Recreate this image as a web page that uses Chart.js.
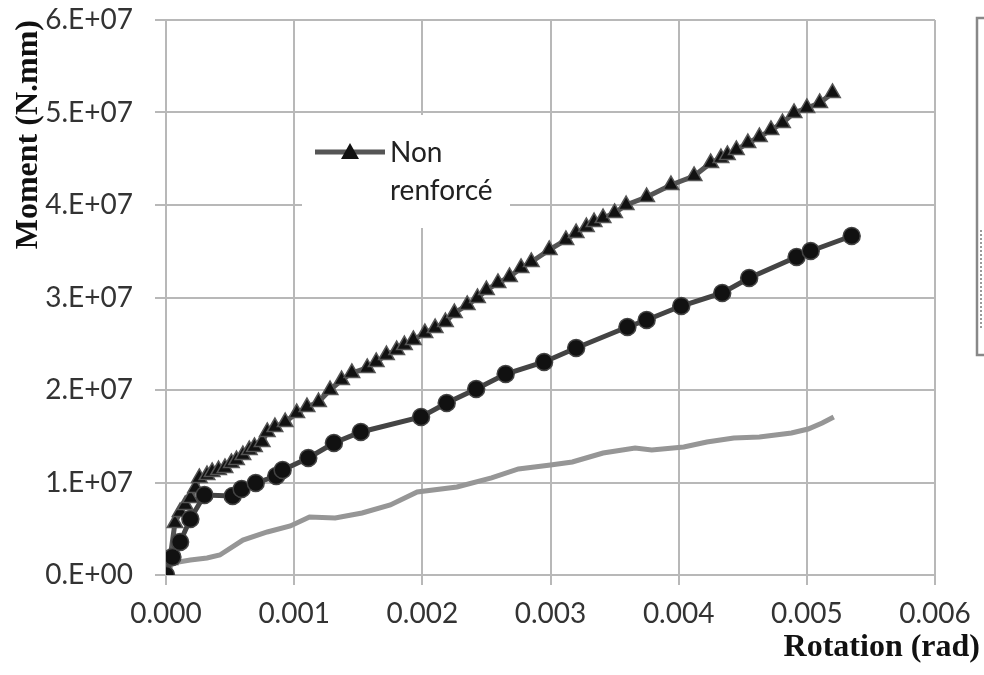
<!DOCTYPE html>
<html>
<head>
<meta charset="utf-8">
<script src="https://cdn.jsdelivr.net/npm/chart.js@4"></script>
<style>
  body { margin: 0; background: #fff; }
</style>
</head>
<body>
<canvas id="momentChart" width="984" height="675"></canvas>
<script>
// rotation (rad) / moment (N.mm)
const triRotation = [0, 0.00003, 0.00007, 0.00011, 0.00015, 0.00019, 0.00023, 0.00026, 0.00032, 0.00036, 0.00041, 0.00046,
  0.00051, 0.00055, 0.00060, 0.00065, 0.00069, 0.00075, 0.00079, 0.00085, 0.00093, 0.00102, 0.00110, 0.00119,
  0.00128, 0.00137, 0.00145, 0.00157, 0.00164, 0.00172, 0.00180, 0.00186, 0.00193, 0.00202, 0.00210, 0.00218,
  0.00225, 0.00235, 0.00243, 0.00250, 0.00259, 0.00268, 0.00277, 0.00285, 0.00299, 0.00312, 0.00320, 0.00328,
  0.00334, 0.00341, 0.00350, 0.00359, 0.00375, 0.00394, 0.00412, 0.00425, 0.00433, 0.00438, 0.00445, 0.00454,
  0.00463, 0.00472, 0.00481, 0.00490, 0.00500, 0.00510, 0.00520];
const triMoment = [0, 1.62e6, 5.62e6, 6.81e6, 7.57e6, 8.32e6, 9.41e6, 10.49e6, 10.81e6, 11.14e6, 11.35e6, 11.57e6,
  12.11e6, 12.43e6, 12.97e6, 13.51e6, 13.84e6, 14.38e6, 15.46e6, 16.0e6, 16.54e6, 17.51e6, 18.16e6, 18.70e6,
  20.0e6, 21.08e6, 21.84e6, 22.38e6, 23.03e6, 23.78e6, 24.32e6, 24.86e6, 25.41e6, 26.16e6, 26.70e6, 27.35e6,
  28.32e6, 29.19e6, 29.95e6, 30.81e6, 31.57e6, 32.22e6, 33.19e6, 33.84e6, 35.14e6, 36.22e6, 36.97e6, 37.62e6,
  38.16e6, 38.59e6, 39.14e6, 40.0e6, 40.86e6, 42.16e6, 43.14e6, 44.54e6, 45.08e6, 45.41e6, 45.95e6, 46.70e6,
  47.35e6, 48.11e6, 48.86e6, 49.95e6, 50.49e6, 51.03e6, 52.11e6];

const circRotation = [0, 0.00005, 0.00011, 0.00019, 0.00030, 0.00052, 0.00059, 0.00070, 0.00086, 0.00091, 0.00111,
  0.00131, 0.00152, 0.00199, 0.00219, 0.00242, 0.00265, 0.00295, 0.00320, 0.00360, 0.00375, 0.00402, 0.00434,
  0.00455, 0.00492, 0.00503, 0.00535];
const circMoment = [0, 1.95e6, 3.57e6, 6.05e6, 8.65e6, 8.54e6, 9.30e6, 9.95e6, 10.70e6, 11.35e6, 12.65e6,
  14.27e6, 15.46e6, 17.08e6, 18.59e6, 20.11e6, 21.73e6, 23.03e6, 24.54e6, 26.81e6, 27.57e6, 29.08e6, 30.49e6,
  32.11e6, 34.38e6, 35.03e6, 36.65e6];

const grayRotation = [0, 0.00002, 0.00005, 0.00019, 0.00032, 0.00042, 0.00060, 0.00079, 0.00097, 0.00112, 0.00132,
  0.00153, 0.00175, 0.00196, 0.00227, 0.00254, 0.00275, 0.00300, 0.00317, 0.00341, 0.00366, 0.00379, 0.00404,
  0.00422, 0.00443, 0.00463, 0.00488, 0.00501, 0.00512, 0.00521];
const grayMoment = [0, 0.54e6, 1.30e6, 1.62e6, 1.84e6, 2.16e6, 3.78e6, 4.65e6, 5.30e6, 6.27e6, 6.16e6,
  6.70e6, 7.57e6, 8.97e6, 9.51e6, 10.49e6, 11.46e6, 11.89e6, 12.22e6, 13.19e6, 13.73e6, 13.51e6, 13.84e6,
  14.38e6, 14.81e6, 14.92e6, 15.35e6, 15.78e6, 16.43e6, 17.08e6];

const xTickLabels = ['0.000', '0.001', '0.002', '0.003', '0.004', '0.005', '0.006'];
const yTickLabels = ['0.E+00', '1.E+07', '2.E+07', '3.E+07', '4.E+07', '5.E+07', '6.E+07'];
const legendLines = ['Non', 'renforcé'];

function toPoints(xs, ys) {
  return xs.map((x, i) => ({ x: x, y: ys[i] }));
}

const gridColor = '#b8b8b8';
const tickFont = { family: 'Lato', size: 28 };

// legend box inside the plot, x title and the clipped box at the right edge
const extrasPlugin = {
  id: 'extras',
  afterDraw(chart) {
    const ctx = chart.ctx;
    const a = chart.chartArea;
    ctx.save();
    // legend
    ctx.fillStyle = '#fff';
    ctx.fillRect(a.left + 136, a.top + 95, 208, 113);
    ctx.strokeStyle = '#555';
    ctx.lineWidth = 5;
    ctx.beginPath();
    ctx.moveTo(a.left + 149, a.top + 132);
    ctx.lineTo(a.left + 219, a.top + 132);
    ctx.stroke();
    ctx.fillStyle = '#111';
    ctx.beginPath();
    ctx.moveTo(a.left + 184, a.top + 123);
    ctx.lineTo(a.left + 193, a.top + 139);
    ctx.lineTo(a.left + 175, a.top + 139);
    ctx.closePath();
    ctx.fill();
    ctx.fillStyle = '#222';
    ctx.font = '28px Lato';
    ctx.textBaseline = 'alphabetic';
    ctx.textAlign = 'left';
    ctx.fillText(legendLines[0], a.left + 224, a.top + 142);
    ctx.fillText(legendLines[1], a.left + 224, a.top + 180);

    // x axis title
    ctx.fillStyle = '#111';
    ctx.font = 'bold 32px "Liberation Serif"';
    ctx.textAlign = 'right';
    ctx.textBaseline = 'middle';
    ctx.fillText('Rotation (rad)', a.right + 45, 648);

    // clipped box at the right edge
    ctx.strokeStyle = '#888';
    ctx.lineWidth = 2.5;
    ctx.strokeRect(977, 18, 40, 337);
    ctx.setLineDash([2, 2]);
    ctx.strokeStyle = '#999';
    ctx.lineWidth = 2;
    ctx.beginPath();
    ctx.moveTo(981, 230);
    ctx.lineTo(981, 330);
    ctx.stroke();
    ctx.restore();
  }
};

new Chart(document.getElementById('momentChart').getContext('2d'), {
  type: 'scatter',
  data: {
    datasets: [
      {
        label: 'Non renforcé',
        data: toPoints(triRotation, triMoment),
        showLine: true,
        borderColor: '#555',
        borderWidth: 5,
        pointStyle: 'triangle',
        pointRadius: 9,
        pointBackgroundColor: '#111',
        pointBorderColor: '#555',
        pointBorderWidth: 1.5,
        order: 2
      },
      {
        label: 'circles',
        data: toPoints(circRotation, circMoment),
        showLine: true,
        borderColor: '#444',
        borderWidth: 5,
        pointStyle: 'circle',
        pointRadius: 8.5,
        pointBackgroundColor: '#111',
        pointBorderColor: '#444',
        pointBorderWidth: 1.5,
        order: 1
      },
      {
        label: 'gray',
        data: toPoints(grayRotation, grayMoment),
        showLine: true,
        borderColor: '#969696',
        borderWidth: 5,
        pointRadius: 0,
        order: 3
      }
    ]
  },
  options: {
    responsive: false,
    animation: false,
    layout: { padding: { top: 20, right: 49, left: 0, bottom: 0 } },
    plugins: {
      legend: { display: false },
      tooltip: { enabled: false }
    },
    scales: {
      x: {
        type: 'linear',
        min: 0,
        max: 0.006,
        afterFit: (scale) => { scale.height = 100; },
        ticks: {
          stepSize: 0.001,
          color: '#333',
          font: tickFont,
          padding: 12,
          maxRotation: 0,
          callback: (v, i) => xTickLabels[i]
        },
        grid: { color: gridColor, lineWidth: 2, tickLength: 10, tickColor: gridColor },
        border: { color: gridColor, width: 2 }
      },
      y: {
        min: 0,
        max: 6e7,
        afterFit: (scale) => {
          scale.width = 166;
          scale.paddingTop = 0;
          scale.paddingBottom = 0;
        },
        ticks: {
          stepSize: 1e7,
          color: '#333',
          font: tickFont,
          padding: 22,
          callback: (v, i) => yTickLabels[i]
        },
        grid: { color: gridColor, lineWidth: 2, tickLength: 11, tickColor: gridColor },
        border: { color: gridColor, width: 2 },
        title: {
          display: true,
          text: 'Moment (N.mm)',
          align: 'end',
          color: '#111',
          font: { family: 'Liberation Serif', size: 32, weight: 'bold' },
          padding: { top: 10, bottom: 0 }
        }
      }
    }
  },
  plugins: [extrasPlugin]
});
</script>
</body>
</html>
